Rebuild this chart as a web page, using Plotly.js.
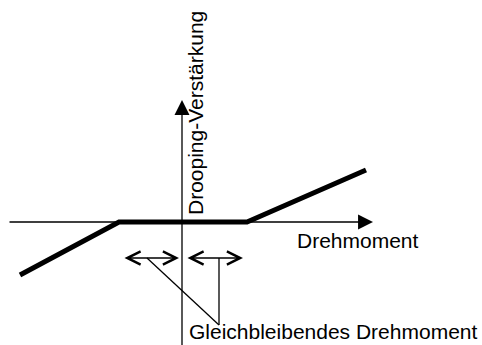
<!DOCTYPE html>
<html>
<head>
<meta charset="utf-8">
<script src="https://cdn.plot.ly/plotly-3.0.1.min.js"></script>
<style>
  html, body { margin: 0; padding: 0; background: #fff; }
  #chart { width: 482px; height: 345px; }
</style>
</head>
<body>
<div id="chart"></div>
<script>
// Drooping gain characteristic over torque (origin = axis crossing)
const torque = [-162, -63, 65, 184];
const gain = [-53, 0, 0, 52];

// constant-torque bands below the axis
const bandLeft = [-59, -3];
const bandRight = [4, 61];
const bandY = -36;
const leaderFrom = [-35, 37];   // x on the band arrows where leaders start
const labelPoint = [37, -103];  // where leaders meet the label

const xLabel = 'Drehmoment';
const yLabel = 'Drooping-Verstärkung';
const bandLabel = 'Gleichbleibendes Drehmoment';

const font = { family: 'Liberation Sans, Arial, sans-serif', size: 21, color: '#000' };

let curve = {
    x: torque,
    y: gain,
    mode: 'lines',
    type: 'scatter',
    line: { color: '#000', width: 5 },
    hoverinfo: 'skip'
};

// thin leader lines as traces
let leaders = leaderFrom.map(x0 => ({
    x: [x0, labelPoint[0]],
    y: [bandY, labelPoint[1]],
    mode: 'lines',
    type: 'scatter',
    line: { color: '#000', width: 1.3 },
    hoverinfo: 'skip'
}));

function arrow(x0, y0, x1, y1, opts) {
    return Object.assign({
        x: x1, y: y1, ax: x0, ay: y0,
        xref: 'x', yref: 'y', axref: 'x', ayref: 'y',
        text: '', showarrow: true,
        arrowcolor: '#000', arrowwidth: 1.3
    }, opts);
}

const dbl = { arrowhead: 5, startarrowhead: 5, arrowside: 'end+start', arrowsize: 2, startarrowsize: 2 };

let annotations = [
    // axes
    arrow(-174, 0, 191, 0, { arrowhead: 2, arrowsize: 2.3 }),
    arrow(0, -125, 0, 122, { arrowhead: 2, arrowsize: 2.3 }),
    // band double arrows
    arrow(bandLeft[0], bandY, bandLeft[1], bandY, dbl),
    arrow(bandRight[0], bandY, bandRight[1], bandY, dbl),
    // labels
    { x: 113, y: -18, xref: 'x', yref: 'y', text: xLabel, showarrow: false, xanchor: 'left', yanchor: 'middle', font: font },
    { x: 13, y: 109, xref: 'x', yref: 'y', text: yLabel, showarrow: false, textangle: -90, xanchor: 'center', yanchor: 'middle', font: font },
    { x: 5, y: -109, xref: 'x', yref: 'y', text: bandLabel, showarrow: false, xanchor: 'left', yanchor: 'middle', font: font }
];

let layout = {
    width: 482,
    height: 345,
    margin: { l: 0, r: 0, t: 0, b: 0 },
    paper_bgcolor: '#fff',
    plot_bgcolor: '#fff',
    showlegend: false,
    xaxis: { range: [-182, 300], visible: false, fixedrange: true },
    yaxis: { range: [-123, 222], visible: false, fixedrange: true },
    annotations: annotations
};

Plotly.newPlot('chart', [curve].concat(leaders), layout, { staticPlot: true });
</script>
</body>
</html>
